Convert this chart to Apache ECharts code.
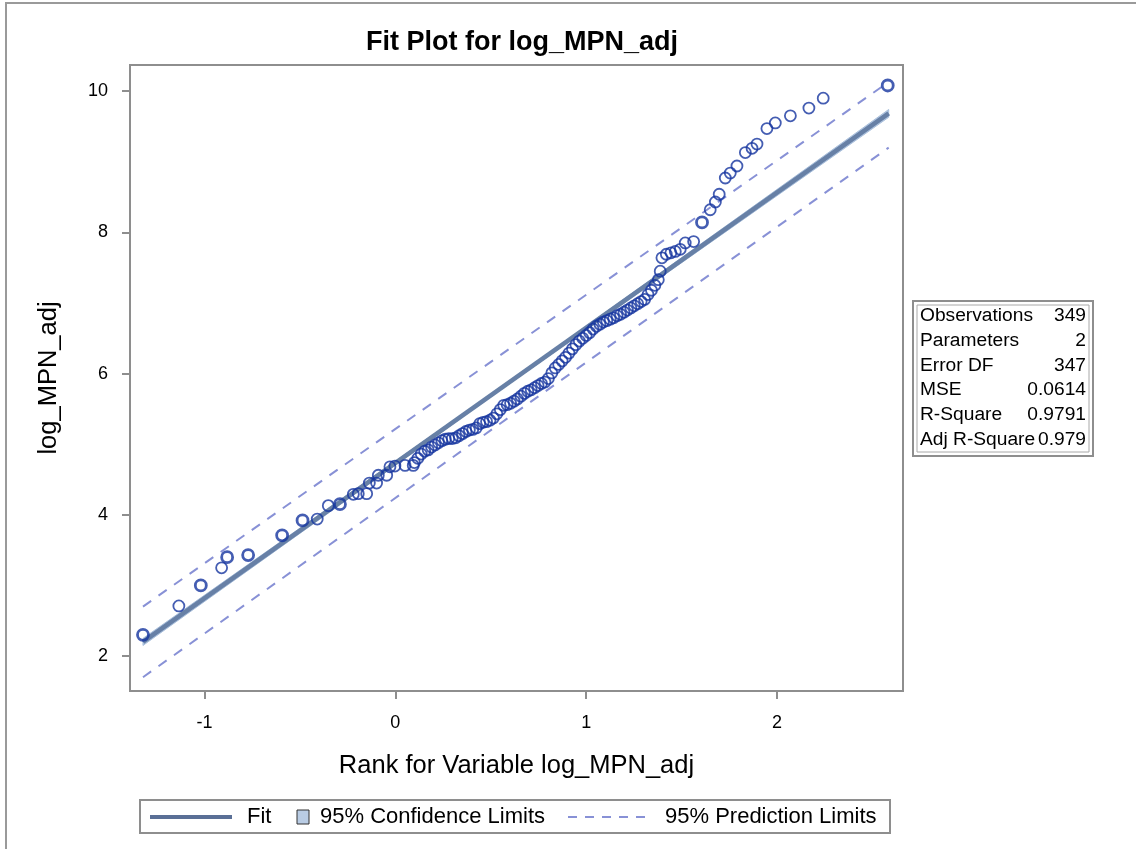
<!DOCTYPE html>
<html>
<head>
<meta charset="utf-8">
<script src="https://cdn.jsdelivr.net/npm/echarts@6/dist/echarts.min.js"></script>
<style>
html,body{margin:0;padding:0;background:#fff;}
#chart{width:1136px;height:849px;}
</style>
</head>
<body>
<div id="chart"></div>
<script>
// ---- data ----
const rankX = [-1.134,-0.910,-0.409,-0.351,-0.220,-0.194,-0.150,-0.136,-0.098,-0.089,-0.045,-0.028,-0.002,0.051,0.094,
  0.100,0.118,0.136,0.154,0.172,0.190,0.208,0.226,0.244,0.262,0.280,0.298,0.316,0.334,0.352,0.370,0.388,0.406,0.424,0.442,
  0.460,0.478,0.496,0.514,0.532,0.550,0.568,0.586,0.604,0.622,0.640,0.658,0.676,0.694,0.712,0.730,0.748,0.766,0.784,0.802,
  0.820,0.838,0.856,0.874,0.892,0.910,0.928,0.946,0.964,0.982,1.000,1.018,1.036,1.054,1.072,1.090,1.108,1.126,1.144,1.162,
  1.180,1.198,1.216,1.234,1.252,1.270,1.288,1.306,1.324,1.342,1.360,1.378,1.388,1.397,1.420,1.444,1.467,1.493,1.519,1.563,
  1.650,1.677,1.697,1.729,1.755,1.790,1.834,1.869,1.895,1.947,1.991,2.070,2.167,2.242];
const logMPN = [2.71,3.25,3.94,4.13,4.29,4.30,4.30,4.45,4.45,4.56,4.56,4.68,4.69,4.70,4.70,
  4.74,4.80,4.86,4.90,4.92,4.96,4.99,5.02,5.05,5.07,5.08,5.08,5.09,5.12,5.15,5.18,5.20,5.21,5.23,5.29,
  5.31,5.32,5.34,5.37,5.43,5.49,5.55,5.56,5.58,5.61,5.64,5.68,5.72,5.75,5.77,5.80,5.83,5.86,5.88,5.93,
  6.01,6.08,6.13,6.18,6.23,6.29,6.35,6.41,6.46,6.50,6.54,6.58,6.63,6.67,6.70,6.73,6.75,6.77,6.79,6.82,
  6.84,6.87,6.90,6.93,6.96,6.99,7.02,7.05,7.12,7.18,7.25,7.33,7.45,7.64,7.69,7.71,7.73,7.76,7.85,7.87,
  8.32,8.43,8.54,8.77,8.84,8.94,9.13,9.19,9.25,9.47,9.55,9.65,9.76,9.90];
// observations with many ties (drawn heavier)
const tiedRankX = [-1.322,-1.019,-0.881,-0.771,-0.593,-0.486,-0.290,1.607,2.580];
const tiedLogMPN = [2.30,3.00,3.40,3.43,3.71,3.92,4.15,8.14,10.08];

const fitX = [-1.322, 2.585];
const fitY = [2.20, 9.685];
const confX = [-1.322, 0.60, 2.585];
const confLower = [2.15, 5.86, 9.63];
const confUpper = [2.25, 5.90, 9.74];
const predX = [-1.322, 2.585];
const predLower = [1.70, 9.20];
const predUpper = [2.70, 10.13];

const xTicks = [-1, 0, 1, 2];
const yTicks = [2, 4, 6, 8, 10];

const statLabels = ['Observations','Parameters','Error DF','MSE','R-Square','Adj R-Square'];
const statValues = ['349','2','347','0.0614','0.9791','0.979'];

const titleText = 'Fit Plot for log_MPN_adj';
const xName = 'Rank for Variable log_MPN_adj';
const yName = 'log_MPN_adj';
const legendLabels = ['Fit','95% Confidence Limits','95% Prediction Limits'];

// ---- chart ----
const FONT = '"Liberation Sans", Arial, sans-serif';
const chart = echarts.init(document.getElementById('chart'), null, {renderer:'canvas'});

const scatterColor = '#15349f';
const fitColor = '#6780a6';
const bandColor = '#b9cce4';
const predColor = '#8891d6';
const frameColor = '#8e8e8e';

const statGraphics = [];
statGraphics.push({type:'rect', shape:{x:913,y:301,width:180,height:155}, style:{fill:'#fff',stroke:frameColor,lineWidth:2}});
statGraphics.push({type:'rect', shape:{x:917,y:305,width:172,height:147}, style:{fill:'none',stroke:'#a8a8a8',lineWidth:1}});
statLabels.forEach((s,i)=>{
  const y = 316 + i*24.7;
  statGraphics.push({type:'text', x:920, y:y, style:{text:s, font:'19.2px '+FONT, fill:'#000', textVerticalAlign:'middle', textAlign:'left'}});
  statGraphics.push({type:'text', x:1086, y:y, style:{text:statValues[i], font:'19.2px '+FONT, fill:'#000', textVerticalAlign:'middle', textAlign:'right'}});
});

const legendGraphics = [
  {type:'rect', shape:{x:140,y:800,width:750,height:33}, style:{fill:'#fff',stroke:frameColor,lineWidth:2}},
  {type:'line', shape:{x1:150,y1:817,x2:232,y2:817}, style:{stroke:'#5a6f96',lineWidth:4}},
  {type:'text', x:247, y:817, style:{text:legendLabels[0], font:'22px '+FONT, fill:'#000', textVerticalAlign:'middle'}},
  {type:'rect', shape:{x:297,y:810,width:12,height:14}, style:{fill:bandColor,stroke:'#333',lineWidth:1}},
  {type:'text', x:320, y:817, style:{text:legendLabels[1], font:'22px '+FONT, fill:'#000', textVerticalAlign:'middle'}},
  {type:'line', shape:{x1:568,y1:817,x2:652,y2:817}, style:{stroke:predColor,lineWidth:2,lineDash:[9,8]}},
  {type:'text', x:665, y:817, style:{text:legendLabels[2], font:'22px '+FONT, fill:'#000', textVerticalAlign:'middle'}}
];

const option = {
  backgroundColor:'#fff',
  animation:false,
  title:{text:titleText, left:517, top:24, textAlign:'center',
    textStyle:{fontFamily:FONT, fontSize:27, fontWeight:'bold', color:'#000'}},
  grid:{left:130, top:65, width:773, height:626, show:true, borderColor:frameColor, borderWidth:2, backgroundColor:'#fff', containLabel:false},
  xAxis:{type:'value', min:-1.39, max:2.66,
    name:xName, nameLocation:'middle', nameGap:62,
    nameTextStyle:{fontFamily:FONT, fontSize:25.5, color:'#000'},
    axisLine:{show:false, onZero:false},
    axisTick:{show:true, inside:false, length:8, customValues:xTicks, lineStyle:{color:frameColor,width:2}},
    axisLabel:{customValues:xTicks, margin:23, fontFamily:FONT, fontSize:18, color:'#000', formatter:v=>String(v)},
    splitLine:{show:false}},
  yAxis:{type:'value', min:1.505, max:10.37,
    name:yName, nameLocation:'middle', nameGap:68, nameRotate:90,
    nameTextStyle:{fontFamily:FONT, fontSize:25.5, color:'#000'},
    axisLine:{show:false, onZero:false},
    axisTick:{show:true, inside:false, length:8, customValues:yTicks, lineStyle:{color:frameColor,width:2}},
    axisLabel:{customValues:yTicks, margin:22, fontFamily:FONT, fontSize:18, color:'#000', formatter:v=>String(v)},
    splitLine:{show:false}},
  series:[
    {type:'custom', name:'95% Confidence Limits', silent:true, z:2,
      data: confX.map((x,i)=>[x, confLower[i], confUpper[i]]),
      encode:{x:0, y:[1,2]},
      renderItem:function(params, api){
        if (params.dataIndex !== 0) return null;
        const pts = [];
        for (let i=0;i<confX.length;i++) pts.push(api.coord([confX[i], confUpper[i]]));
        for (let i=confX.length-1;i>=0;i--) pts.push(api.coord([confX[i], confLower[i]]));
        return {type:'polygon', shape:{points:pts}, style:{fill:bandColor, stroke:'#a9bfdc', lineWidth:1}};
      }},
    {type:'line', name:'upper', data:predX.map((x,i)=>[x,predUpper[i]]), showSymbol:false, z:3,
      lineStyle:{color:predColor, width:2, type:[10,9]}},
    {type:'line', name:'lower', data:predX.map((x,i)=>[x,predLower[i]]), showSymbol:false, z:3,
      lineStyle:{color:predColor, width:2, type:[10,9]}},
    {type:'line', name:'Fit', data:fitX.map((x,i)=>[x,fitY[i]]), showSymbol:false, z:4,
      lineStyle:{color:fitColor, width:4.5}},
    {type:'scatter', name:'obs', data:rankX.map((x,i)=>[x,logMPN[i]]), z:5,
      symbol:'circle', symbolSize:11,
      itemStyle:{color:'rgba(255,255,255,0)', borderColor:scatterColor, borderWidth:1.8}},
    {type:'scatter', name:'obsTied', data:tiedRankX.map((x,i)=>[x,tiedLogMPN[i]]), z:5,
      symbol:'circle', symbolSize:11,
      itemStyle:{color:'rgba(255,255,255,0)', borderColor:scatterColor, borderWidth:2.8}}
  ],
  graphic:[
    {type:'rect', shape:{x:6,y:3,width:1300,height:1000}, style:{fill:'none',stroke:'#9a9a9a',lineWidth:2}, z:100},
    ...statGraphics,
    ...legendGraphics
  ]
};
chart.setOption(option);
</script>
</body>
</html>
